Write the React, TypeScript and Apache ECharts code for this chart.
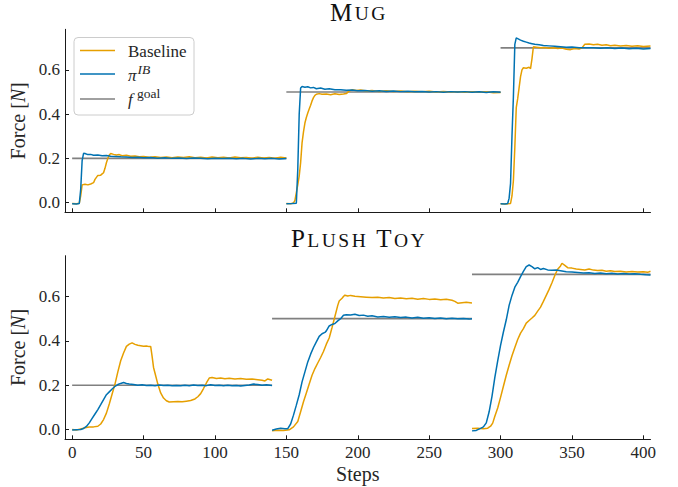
import React, { useEffect, useRef } from "react";
import * as echarts from "echarts";

const FONT = "Liberation Serif";
const ORANGE = "#E69F00";
const BLUE = "#0072B2";
const GRAY = "#808080";
const INK = "#262626";

const xTicks = [0, 50, 100, 150, 200, 250, 300, 350, 400];
const yTicks = [0, 0.2, 0.4, 0.6];

// Goal segments [start, end, value]
const mugGoals: [number, number, number][] = [
  [0, 150, 0.2],
  [150, 300, 0.5],
  [300, 405, 0.7],
];
const plushGoals: [number, number, number][] = [
  [0, 140, 0.2],
  [140, 280, 0.5],
  [280, 405, 0.7],
];

// ---- Mug ----
const mugBaseline1 = [[0,-0.004],[3,-0.005],[5,-0.003],[6,0.03],[7,0.08],[9,0.083],[11,0.08],[13,0.084],[15,0.09],[16,0.105],[18,0.123],[20,0.124],[21,0.13],[22,0.135],[23,0.155],[24,0.18],[25,0.2],[26,0.215],[27,0.222],[29,0.218],[31,0.215],[33,0.217],[35,0.212],[38,0.214],[41,0.21],[44,0.211],[47,0.207],[50,0.209],[54,0.205],[58,0.207],[62,0.204],[66,0.206],[70,0.203],[74,0.206],[78,0.204],[82,0.207],[86,0.203],[90,0.205],[94,0.202],[98,0.206],[102,0.203],[106,0.205],[110,0.202],[114,0.206],[118,0.203],[122,0.204],[126,0.201],[130,0.205],[134,0.202],[138,0.204],[142,0.201],[146,0.205],[150,0.202]];
const mugPi1 = [[0,-0.005],[3,-0.006],[5,-0.004],[6,0.06],[7,0.19],[8,0.223],[9,0.222],[11,0.217],[13,0.218],[15,0.214],[18,0.215],[21,0.212],[24,0.213],[27,0.21],[30,0.209],[34,0.207],[38,0.206],[42,0.204],[46,0.205],[50,0.203],[55,0.204],[60,0.201],[65,0.203],[70,0.2],[75,0.202],[80,0.199],[85,0.202],[90,0.2],[95,0.198],[100,0.201],[105,0.199],[110,0.201],[115,0.198],[120,0.2],[125,0.197],[130,0.2],[135,0.198],[140,0.2],[145,0.197],[150,0.199]];
const mugBaseline2 = [[150,-0.004],[153,-0.005],[155,-0.002],[156,0.01],[157,0.045],[158,0.08],[159,0.12],[160,0.18],[161,0.27],[162,0.32],[163,0.36],[164,0.385],[165,0.405],[166,0.423],[167,0.44],[168,0.46],[169,0.475],[170,0.485],[171,0.49],[173,0.493],[175,0.49],[178,0.491],[181,0.488],[184,0.492],[187,0.489],[190,0.491],[192,0.493],[194,0.505],[196,0.51],[199,0.507],[202,0.509],[206,0.505],[210,0.507],[215,0.503],[220,0.506],[225,0.503],[230,0.505],[235,0.501],[240,0.504],[245,0.502],[250,0.504],[255,0.5],[260,0.503],[265,0.5],[270,0.502],[275,0.499],[280,0.502],[285,0.499],[290,0.501],[295,0.497],[300,0.498]];
const mugPi2 = [[150,-0.005],[154,-0.004],[157,-0.003],[158,0.15],[159,0.4],[160,0.518],[161,0.525],[163,0.522],[165,0.524],[167,0.519],[169,0.521],[171,0.515],[174,0.518],[177,0.513],[180,0.515],[184,0.51],[188,0.511],[192,0.508],[196,0.509],[200,0.506],[205,0.507],[210,0.504],[215,0.506],[220,0.503],[225,0.505],[230,0.502],[235,0.504],[240,0.501],[245,0.503],[250,0.5],[255,0.502],[260,0.499],[265,0.502],[270,0.5],[275,0.502],[280,0.499],[285,0.501],[290,0.498],[295,0.501],[300,0.499]];
const mugBaseline3 = [[300,-0.005],[304,-0.006],[307,-0.004],[308,0.03],[309,0.1],[310,0.25],[311,0.43],[312,0.47],[313,0.52],[314,0.57],[315,0.6],[316,0.61],[318,0.608],[320,0.612],[321,0.606],[322,0.65],[323,0.705],[325,0.703],[328,0.7],[331,0.702],[334,0.698],[337,0.7],[340,0.697],[343,0.699],[346,0.694],[349,0.692],[352,0.697],[355,0.695],[357,0.7],[359,0.716],[362,0.717],[365,0.714],[368,0.716],[371,0.712],[374,0.714],[377,0.71],[380,0.712],[384,0.708],[388,0.711],[392,0.707],[396,0.71],[400,0.706],[405,0.708]];
const mugPi3 = [[300,-0.005],[303,-0.006],[305,-0.004],[306,0.02],[307,0.087],[308,0.3],[309,0.48],[310,0.716],[311,0.745],[312,0.742],[314,0.735],[316,0.73],[318,0.726],[320,0.722],[322,0.719],[324,0.716],[327,0.714],[330,0.711],[334,0.709],[338,0.707],[342,0.705],[346,0.703],[350,0.704],[355,0.701],[360,0.7],[365,0.701],[370,0.698],[375,0.7],[380,0.697],[385,0.699],[390,0.696],[395,0.698],[400,0.695],[405,0.697]];

// ---- Plush Toy ----
const plushBaseline1 = [[0,0.0],[3,-0.002],[6,0.003],[9,0.008],[12,0.011],[15,0.012],[18,0.015],[20,0.025],[22,0.045],[24,0.074],[26,0.115],[28,0.16],[30,0.205],[32,0.26],[34,0.31],[36,0.345],[38,0.375],[40,0.385],[42,0.391],[44,0.384],[46,0.38],[48,0.378],[50,0.376],[52,0.377],[54,0.374],[55,0.375],[56,0.33],[57,0.28],[58,0.255],[60,0.205],[62,0.165],[64,0.142],[66,0.13],[68,0.124],[71,0.125],[74,0.126],[77,0.125],[80,0.128],[83,0.131],[86,0.138],[88,0.148],[90,0.162],[92,0.185],[94,0.21],[96,0.232],[98,0.235],[101,0.23],[104,0.232],[107,0.229],[110,0.231],[114,0.228],[118,0.23],[122,0.227],[126,0.228],[130,0.225],[133,0.222],[135,0.219],[137,0.228],[140,0.222]];
const plushPi1 = [[0,-0.002],[3,-0.001],[6,0.0],[8,0.005],[10,0.014],[12,0.03],[14,0.05],[16,0.07],[18,0.09],[20,0.112],[22,0.135],[24,0.157],[26,0.17],[28,0.183],[30,0.195],[32,0.203],[34,0.208],[36,0.212],[38,0.208],[40,0.205],[43,0.203],[46,0.2],[49,0.202],[52,0.199],[55,0.2],[58,0.198],[61,0.201],[64,0.199],[67,0.2],[70,0.198],[73,0.199],[76,0.197],[79,0.2],[82,0.198],[85,0.201],[88,0.199],[91,0.2],[94,0.198],[97,0.202],[100,0.199],[103,0.2],[106,0.198],[109,0.2],[112,0.197],[115,0.199],[118,0.196],[121,0.199],[124,0.201],[127,0.205],[130,0.203],[133,0.2],[136,0.202],[140,0.199]];
const plushBaseline2 = [[140,-0.005],[144,-0.003],[148,-0.004],[152,-0.001],[155,0.012],[158,0.036],[160,0.08],[162,0.125],[164,0.165],[166,0.205],[168,0.245],[170,0.275],[172,0.3],[174,0.325],[176,0.352],[178,0.385],[180,0.413],[182,0.46],[184,0.51],[186,0.56],[187,0.58],[189,0.592],[190,0.6],[191,0.606],[193,0.602],[195,0.605],[198,0.601],[202,0.599],[206,0.597],[210,0.595],[214,0.597],[218,0.593],[222,0.595],[226,0.591],[230,0.593],[234,0.59],[238,0.592],[242,0.588],[246,0.591],[250,0.587],[254,0.589],[258,0.585],[262,0.588],[266,0.583],[268,0.578],[270,0.57],[273,0.572],[276,0.574],[280,0.571]];
const plushPi2 = [[140,-0.003],[143,0.002],[146,0.006],[149,0.004],[151,0.004],[153,0.025],[155,0.065],[157,0.11],[159,0.157],[161,0.215],[163,0.26],[165,0.305],[167,0.34],[169,0.37],[171,0.395],[173,0.42],[175,0.432],[177,0.438],[178,0.445],[180,0.467],[182,0.474],[184,0.478],[186,0.49],[188,0.5],[190,0.515],[192,0.518],[195,0.517],[198,0.52],[201,0.514],[204,0.516],[207,0.511],[210,0.513],[214,0.508],[218,0.51],[222,0.506],[226,0.509],[230,0.505],[234,0.507],[238,0.503],[242,0.506],[246,0.502],[250,0.504],[254,0.501],[258,0.503],[262,0.5],[266,0.502],[270,0.5],[274,0.501],[278,0.498],[280,0.5]];
const plushBaseline3 = [[280,0.005],[284,0.006],[288,0.004],[291,0.006],[293,0.015],[294.5,0.029],[296,0.06],[298,0.097],[300,0.145],[302,0.195],[304,0.245],[306,0.29],[308,0.333],[310,0.37],[312,0.406],[314,0.435],[316,0.455],[318,0.48],[320,0.492],[322,0.503],[324,0.515],[326,0.534],[328,0.552],[330,0.578],[332,0.605],[334,0.632],[336,0.662],[338,0.695],[340,0.723],[342,0.738],[343,0.75],[345,0.74],[347,0.73],[350,0.728],[353,0.724],[356,0.722],[359,0.72],[362,0.724],[365,0.719],[368,0.717],[371,0.718],[374,0.714],[377,0.716],[380,0.713],[384,0.714],[388,0.711],[392,0.713],[396,0.71],[400,0.712],[403,0.709],[405,0.714]];
const plushPi3 = [[280,-0.006],[283,-0.004],[286,0.005],[288,0.012],[290,0.03],[292,0.08],[294,0.15],[296,0.235],[298,0.31],[300,0.38],[302,0.44],[304,0.495],[306,0.56],[308,0.605],[310,0.642],[312,0.664],[314,0.69],[316,0.713],[318,0.735],[320,0.742],[322,0.735],[324,0.725],[326,0.73],[328,0.722],[330,0.726],[333,0.72],[336,0.718],[339,0.719],[342,0.716],[346,0.712],[350,0.71],[354,0.708],[358,0.706],[362,0.707],[366,0.704],[370,0.706],[374,0.703],[378,0.705],[382,0.702],[386,0.704],[390,0.701],[394,0.703],[398,0.7],[402,0.698],[405,0.697]];

const panels = [
  { goals: mugGoals, baseline: [mugBaseline1, mugBaseline2, mugBaseline3], pi: [mugPi1, mugPi2, mugPi3] },
  { goals: plushGoals, baseline: [plushBaseline1, plushBaseline2, plushBaseline3], pi: [plushPi1, plushPi2, plushPi3] },
];

// small caps as rich text: first letter of each word large, rest small
function smallCaps(title: string) {
  return title
    .split(" ")
    .map((w) => {
      const first = `{a|${w[0]}}`;
      const rest = w.slice(1).toUpperCase().split("").map((c) => `{b|${c}}`).join("");
      return first + rest;
    })
    .join("{sp| }");
}

function buildOption() {
  const series: any[] = [];
  panels.forEach((p, i) => {
    p.goals.forEach(([a, b, v]) => {
      series.push({
        type: "line", name: "goal", xAxisIndex: i, yAxisIndex: i,
        data: [[a, v], [b, v]], symbol: "none", silent: true,
        lineStyle: { color: GRAY, width: 1.6 },
      });
    });
    p.baseline.forEach((d) => {
      series.push({
        type: "line", name: "Baseline", xAxisIndex: i, yAxisIndex: i,
        data: d, symbol: "none", silent: true,
        lineStyle: { color: ORANGE, width: 1.5 },
      });
    });
    p.pi.forEach((d) => {
      series.push({
        type: "line", name: "pi", xAxisIndex: i, yAxisIndex: i,
        data: d, symbol: "none", silent: true,
        lineStyle: { color: BLUE, width: 1.5 },
      });
    });
  });

  const axisLine = { onZero: false, lineStyle: { color: "#1a1a1a", width: 1 } };
  const tick = { inside: true, length: 4, lineStyle: { color: "#1a1a1a", width: 1 } };
  const tickRich = { t: { fontFamily: FONT, fontSize: 17, color: INK } };
  const labelStyle = { fontFamily: FONT, fontSize: 17, color: INK, rich: tickRich };

  const xAxis = [0, 1].map((i) => ({
    type: "value", gridIndex: i, min: -5, max: 405,
    axisLine, splitLine: { show: false },
    axisTick: { ...tick, customValues: xTicks },
    axisLabel: i === 1
      ? { ...labelStyle, show: true, margin: 5, customValues: xTicks, formatter: (v: number) => `{t|${v}}` }
      : { show: false },
    ...(i === 1
      ? { name: "Steps", nameLocation: "middle", nameGap: 25, nameTextStyle: { fontFamily: FONT, fontSize: 20, color: INK } }
      : {}),
  }));

  const yAxis = [0, 1].map((i) => ({
    type: "value", gridIndex: i, min: -0.044, max: 0.784,
    axisLine, splitLine: { show: false },
    axisTick: { ...tick, customValues: yTicks },
    axisLabel: { ...labelStyle, margin: 5, customValues: yTicks, formatter: (v: number) => `{t|${v.toFixed(1)}}` },
    name: "Force [{i|N}]", nameLocation: "middle", nameGap: 31,
    nameTextStyle: {
      fontFamily: FONT, fontSize: 20, color: INK,
      rich: { i: { fontFamily: FONT, fontSize: 20, fontStyle: "italic", color: INK } },
    },
  }));

  const capRich = {
    a: { fontFamily: FONT, fontSize: 25, lineHeight: 25, verticalAlign: "bottom", fill: "#111", padding: [0, 2.5, 0, 0] },
    b: { fontFamily: FONT, fontSize: 19.5, lineHeight: 19.5, verticalAlign: "bottom", fill: "#111", padding: [0, 2.5, 1, 0] },
    sp: { fontFamily: FONT, fontSize: 19.5, lineHeight: 19.5, verticalAlign: "bottom", padding: [0, 3, 0, 0] },
  };

  const legendRows = [
    { y: 50.5, color: ORANGE },
    { y: 74, color: BLUE },
    { y: 99, color: GRAY },
  ];

  const graphic: any[] = [
    { type: "text", x: 359, y: 12, style: { text: smallCaps("Mug"), rich: capRich, align: "center", verticalAlign: "middle" } },
    { type: "text", x: 359, y: 238.5, style: { text: smallCaps("Plush Toy"), rich: capRich, align: "center", verticalAlign: "middle" } },
    { type: "rect", shape: { x: 74, y: 37.5, width: 120, height: 77.5, r: 4 }, style: { fill: "rgba(255,255,255,0.85)", stroke: "#cccccc", lineWidth: 1 }, z: 50 },
    ...legendRows.map((r) => ({
      type: "line", shape: { x1: 80, y1: r.y, x2: 115, y2: r.y }, style: { stroke: r.color, lineWidth: 1.6 }, z: 51,
    })),
    { type: "text", x: 128, y: 51, z: 51, style: { text: "Baseline", fontFamily: FONT, fontSize: 17, fill: INK, align: "left", verticalAlign: "middle" } },
    { type: "text", x: 128, y: 75, z: 51, style: { text: "π", fontFamily: FONT, fontSize: 17, fontStyle: "italic", fill: INK, align: "left", verticalAlign: "middle" } },
    { type: "text", x: 137.5, y: 69.5, z: 51, style: { text: "IB", fontFamily: FONT, fontSize: 13.5, fontStyle: "italic", fill: INK, align: "left", verticalAlign: "middle" } },
    { type: "text", x: 128, y: 99.5, z: 51, style: { text: "f", fontFamily: FONT, fontSize: 17, fontStyle: "italic", fill: INK, align: "left", verticalAlign: "middle" } },
    { type: "text", x: 137, y: 93.5, z: 51, style: { text: "goal", fontFamily: FONT, fontSize: 13.5, fill: INK, align: "left", verticalAlign: "middle" } },
  ];

  return {
    animation: false,
    backgroundColor: "#ffffff",
    textStyle: { fontFamily: FONT, color: INK },
    grid: [
      { left: 65, right: 27.5, top: 29.3, height: 183, containLabel: false, outerBoundsMode: "none" },
      { left: 65, right: 27.5, top: 255.7, height: 183.6, containLabel: false, outerBoundsMode: "none" },
    ],
    xAxis,
    yAxis,
    series,
    graphic,
  };
}

export default function App() {
  const ref = useRef<HTMLDivElement>(null);
  useEffect(() => {
    if (!ref.current) return;
    const chart = echarts.init(ref.current, null, { renderer: "svg" });
    chart.setOption(buildOption() as any);
    return () => chart.dispose();
  }, []);
  return (
    <div
      ref={ref}
      style={{ position: "fixed", left: 0, top: 0, width: 678, height: 487, background: "#fff" }}
    />
  );
}
